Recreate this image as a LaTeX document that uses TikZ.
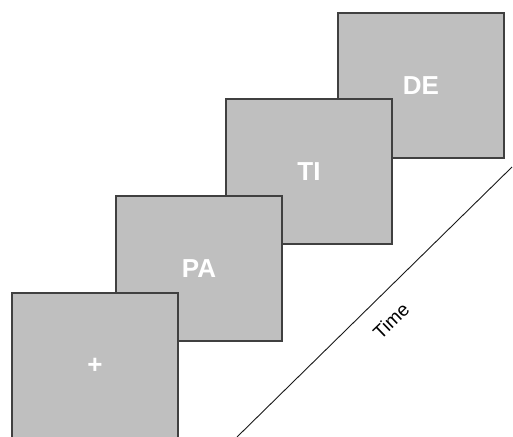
\documentclass[tikz,border=0pt]{standalone}
\usepackage{fontspec}
\setmainfont{Liberation Sans}
\begin{document}
\begin{tikzpicture}[x=1pt,y=-1pt,
  screen/.style={draw=black!75, line width=1.1pt, fill=black!25, minimum width=166pt, minimum height=145pt, inner sep=0pt, text=white, font=\fontsize{26}{30}\selectfont\bfseries},
  timeline/.style={draw=black!90, line width=0.9pt}]
\useasboundingbox (0,0) rectangle (513,436);
\node[screen] (de) at (421,85.5) {DE};
\node[screen] (ti) at (309,171.5) {TI};
\node[screen] (pa) at (199,268.5) {PA};
\node[screen] (fix) at (95,365.5) {+};
\coordinate (t0) at (237,437);
\coordinate (t1) at (512,167);
\draw[timeline] (t0) -- (t1);
\node[rotate=44, font=\fontsize{19}{23}\selectfont] (time) at (391,321) {Time};
\end{tikzpicture}
\end{document}
